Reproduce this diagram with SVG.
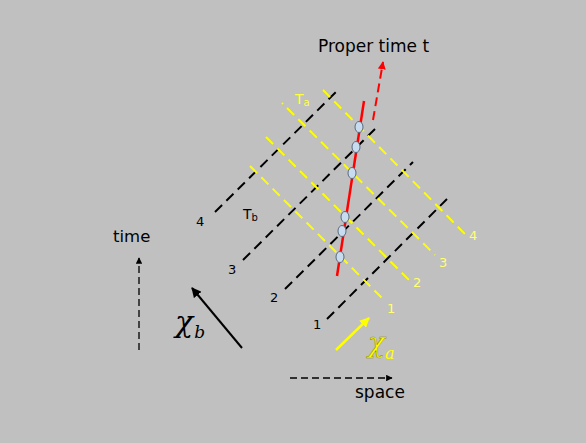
<svg xmlns="http://www.w3.org/2000/svg" width="586" height="443" viewBox="0 0 586 443">
<style>
.bk{stroke:#000;stroke-width:2;stroke-dasharray:10 6;fill:none}
.yl{stroke:#ffff00;stroke-width:2;stroke-dasharray:10 6;fill:none}
.t{font-family:"DejaVu Sans",Verdana,sans-serif;fill:#000}
.n{font-family:"DejaVu Sans",Verdana,sans-serif;font-size:13px;fill:#000}
.ny{font-family:"DejaVu Sans",Verdana,sans-serif;font-size:13px;fill:#ffff70}
.ev{fill:#c8dcf0;stroke:#5a6a80;stroke-width:1}
</style>
<defs>
<marker id="ab" viewBox="0 0 10 10" refX="9" refY="5" markerWidth="5" markerHeight="5" orient="auto"><path d="M0,0L10,5L0,10z" fill="#000"/></marker>
<marker id="ar" viewBox="0 0 10 10" refX="9" refY="5" markerWidth="4" markerHeight="4" orient="auto"><path d="M0,0L10,5L0,10z" fill="#ff0000"/></marker>
<marker id="ay" viewBox="0 0 10 10" refX="9" refY="5" markerWidth="4" markerHeight="4" orient="auto"><path d="M0,0L10,5L0,10z" fill="#ffff00"/></marker>
</defs>
<rect width="586" height="443" fill="#c0c0c0"/>
<g id="connectors">
<line class="bk" x1="215" y1="212" x2="337" y2="91"/>
<line class="bk" x1="243" y1="260" x2="378" y2="126"/>
<line class="bk" x1="285" y1="289" x2="413" y2="162"/>
<line class="bk" x1="327" y1="319" x2="447" y2="199"/>
<line class="yl" x1="323" y1="90" x2="465" y2="234"/>
<line class="yl" x1="287" y1="108" x2="435" y2="255"/>
<line class="yl" x1="266" y1="137" x2="409" y2="280"/>
<line class="yl" x1="250" y1="166" x2="382" y2="298"/>
<line x1="282" y1="103" x2="283" y2="104" stroke="#ffff00" stroke-width="2"/>
<line x1="337" y1="276" x2="364" y2="101" stroke="#ff0000" stroke-width="2.5"/>
<line x1="373" y1="120" x2="383" y2="62" stroke="#ff0000" stroke-width="2" stroke-dasharray="9 5" marker-end="url(#ar)"/>
<line x1="139" y1="350" x2="139" y2="258" stroke="#000" stroke-width="1.3" stroke-dasharray="7 4" marker-end="url(#ab)"/>
<line x1="290" y1="378" x2="392" y2="378" stroke="#000" stroke-width="1.3" stroke-dasharray="7 4" marker-end="url(#ab)"/>
<line x1="242" y1="348" x2="192" y2="288" stroke="#000" stroke-width="2" marker-end="url(#ab)"/>
<line x1="336" y1="350" x2="369" y2="318" stroke="#ffff00" stroke-width="2.5" marker-end="url(#ay)"/>
</g>
<g id="events">
<ellipse class="ev" cx="359" cy="127" rx="4" ry="5.5"/>
<ellipse class="ev" cx="356" cy="147" rx="4" ry="5.5"/>
<ellipse class="ev" cx="352" cy="173" rx="4" ry="5.5"/>
<ellipse class="ev" cx="345" cy="217" rx="4" ry="5.5"/>
<ellipse class="ev" cx="342" cy="231" rx="4" ry="5.5"/>
<ellipse class="ev" cx="340" cy="257" rx="4" ry="5.5"/>
</g>
<g id="labels">
<text class="t" x="318" y="52" font-size="17">Proper time t</text>
<text class="t" x="113" y="242" font-size="16.5">time</text>
<text class="t" x="355" y="398" font-size="17">space</text>
<text x="295" y="104" font-family="DejaVu Sans,sans-serif" font-size="14" fill="#ffff40">T<tspan font-size="10" dy="2">a</tspan></text>
<text x="243" y="219" font-family="DejaVu Sans,sans-serif" font-size="14" fill="#000">T<tspan font-size="10" dy="2">b</tspan></text>
<text class="n" x="196" y="226">4</text>
<text class="n" x="228" y="274">3</text>
<text class="n" x="270" y="302">2</text>
<text class="n" x="313" y="329">1</text>
<text class="ny" x="387" y="313">1</text>
<text class="ny" x="413" y="287">2</text>
<text class="ny" x="439" y="267">3</text>
<text class="ny" x="469" y="240">4</text>
<text x="175" y="332" font-family="DejaVu Serif,serif" font-style="italic" font-size="30" fill="#000">χ<tspan font-size="17" dx="1" dy="6">b</tspan></text>
<text x="368" y="352" font-family="DejaVu Serif,serif" font-style="italic" font-size="28" fill="#ffff00" stroke="#8a8a00" stroke-width="0.5">χ<tspan font-size="16" dy="7" stroke="none">a</tspan></text>
</g>
</svg>
